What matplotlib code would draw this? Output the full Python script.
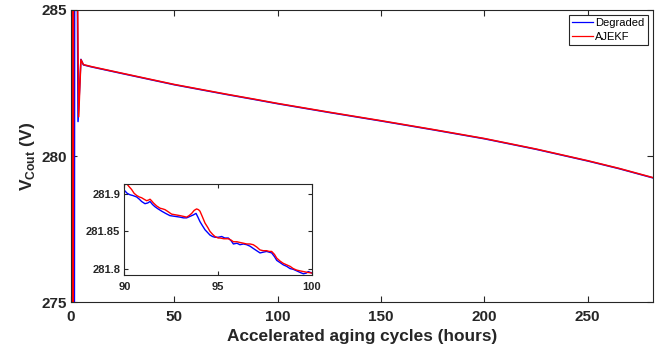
import matplotlib
matplotlib.use("Agg")
import matplotlib.pyplot as plt

plt.rcParams["font.family"] = ["Liberation Sans", "DejaVu Sans"]
plt.rcParams["mathtext.fontset"] = "custom"
plt.rcParams["mathtext.bf"] = "Liberation Sans:bold"
plt.rcParams["mathtext.rm"] = "Liberation Sans"

# Full run: output capacitor voltage vs. aging time
hours_degraded = [0.8, 1.1, 1.5, 1.9, 3.4, 4.8, 6.0, 10, 25, 50, 75, 90, 100,
                  125, 150, 175, 200, 225, 250, 265, 281.6]
v_degraded = [300, 260, 262, 300, 281.18, 283.31, 283.12, 283.05, 282.82, 282.44,
              282.11, 281.92, 281.79, 281.49, 281.20, 280.90, 280.59, 280.23,
              279.83, 279.57, 279.25]

hours_ajekf = [0.35, 0.6, 1.0, 1.3, 3.7, 4.8, 6.0, 10, 25, 50, 75, 90, 100,
               125, 150, 175, 200, 225, 250, 265, 281.6]
v_ajekf = [300, 260, 262, 300, 281.34, 283.30, 283.13, 283.06, 282.83, 282.45,
           282.12, 281.93, 281.80, 281.50, 281.21, 280.91, 280.60, 280.24,
           279.84, 279.58, 279.26]

# Zoomed window 90-100 h
zoom_hours_degraded = [90.00, 90.15, 90.30, 90.45, 90.66, 90.80, 90.92, 91.10, 91.25,
                       91.37, 91.50, 91.63, 91.80, 91.99, 92.20, 92.43, 92.70, 92.97,
                       93.15, 93.32, 93.50, 93.68, 93.82, 93.92, 94.03, 94.15, 94.30,
                       94.45, 94.56, 94.70, 94.83, 95.00, 95.19, 95.35, 95.54, 95.70,
                       95.81, 96.00, 96.16, 96.35, 96.52, 96.70, 96.87, 97.05, 97.23,
                       97.40, 97.58, 97.72, 97.85, 98.00, 98.12, 98.30, 98.47, 98.65,
                       98.83, 99.00, 99.18, 99.35, 99.54, 99.70, 99.80, 100.00]
zoom_v_degraded = [281.905, 281.901, 281.899, 281.898, 281.896, 281.893, 281.890,
                   281.887, 281.888, 281.890, 281.886, 281.883, 281.880, 281.877,
                   281.874, 281.871, 281.870, 281.869, 281.868, 281.868, 281.870,
                   281.872, 281.874, 281.869, 281.863, 281.858, 281.852, 281.848,
                   281.845, 281.843, 281.842, 281.842, 281.843, 281.841, 281.841,
                   281.837, 281.833, 281.834, 281.832, 281.833, 281.832, 281.830,
                   281.827, 281.824, 281.821, 281.822, 281.823, 281.822, 281.821,
                   281.816, 281.811, 281.808, 281.805, 281.803, 281.800, 281.799,
                   281.797, 281.795, 281.793, 281.794, 281.796, 281.794]

zoom_hours_ajekf = [90.00, 90.12, 90.25, 90.39, 90.52, 90.66, 90.80, 90.92, 91.05,
                    91.19, 91.30, 91.37, 91.45, 91.55, 91.72, 91.90, 92.05, 92.17,
                    92.35, 92.52, 92.75, 92.97, 93.15, 93.32, 93.45, 93.59, 93.72,
                    93.85, 93.95, 94.03, 94.15, 94.30, 94.45, 94.56, 94.70, 94.83,
                    95.00, 95.10, 95.30, 95.54, 95.70, 95.81, 96.00, 96.16, 96.35,
                    96.52, 96.70, 96.87, 97.05, 97.23, 97.40, 97.58, 97.72, 97.85,
                    98.00, 98.12, 98.30, 98.47, 98.65, 98.83, 99.00, 99.18, 99.35,
                    99.54, 99.75, 100.00]
zoom_v_ajekf = [281.912, 281.914, 281.910, 281.906, 281.901, 281.898, 281.896,
                281.895, 281.893, 281.891, 281.892, 281.893, 281.891, 281.888,
                281.884, 281.881, 281.880, 281.879, 281.876, 281.873, 281.872,
                281.871, 281.870, 281.869, 281.871, 281.874, 281.878, 281.880,
                281.879, 281.877, 281.870, 281.861, 281.855, 281.850, 281.846,
                281.843, 281.841, 281.841, 281.840, 281.840, 281.838, 281.836,
                281.836, 281.835, 281.834, 281.833, 281.833, 281.832, 281.829,
                281.825, 281.824, 281.824, 281.823, 281.823, 281.819, 281.814,
                281.810, 281.807, 281.805, 281.803, 281.800, 281.798, 281.797,
                281.796, 281.795, 281.794]

x_ticks = [0, 50, 100, 150, 200, 250]
y_ticks = [275, 280, 285]
zoom_x_ticks = [90, 95, 100]
zoom_y_ticks = [281.8, 281.85, 281.9]
zoom_y_labels = ["281.8", "281.85", "281.9"]

BLUE = "#0000ff"
RED = "#ff0000"
FRAME = "#262626"

fig = plt.figure(figsize=(6.68, 3.52), dpi=100)
ax = fig.add_axes([0.1063, 0.142, 0.8712, 0.8296])

ax.plot(hours_degraded, v_degraded, color=BLUE, lw=1.1, label="Degraded")
ax.plot(hours_ajekf, v_ajekf, color=RED, lw=1.1, label="AJEKF")

ax.set_xlim(0, 281.6)
ax.set_ylim(275, 285)
ax.set_xticks(x_ticks)
ax.set_yticks(y_ticks)
ax.tick_params(axis="both", direction="in", top=True, right=True, length=4,
               width=0.8, colors=FRAME, labelsize=11)
ax.tick_params(axis="x", pad=6)
ax.tick_params(axis="y", pad=3)
for lbl in ax.get_xticklabels() + ax.get_yticklabels():
    lbl.set_fontweight("bold")
for s in ax.spines.values():
    s.set_color(FRAME)
    s.set_linewidth(0.8)

ax.set_xlabel("Accelerated aging cycles (hours)", fontsize=12.4, fontweight="bold",
              color=FRAME, labelpad=3)
ax.set_ylabel(r"$\mathbf{V}_{\mathbf{Cout}}$ (V)", fontsize=12.5, fontweight="bold",
              color=FRAME, labelpad=3)

leg = ax.legend(loc="upper right", fontsize=8, handlelength=1.9, handletextpad=0.2,
                borderpad=0.3, labelspacing=0.3, fancybox=False, framealpha=1,
                borderaxespad=0.45)
leg.get_frame().set_edgecolor(FRAME)
leg.get_frame().set_linewidth(0.8)
for line in leg.get_lines():
    line.set_linewidth(0.9)

ins = fig.add_axes([0.1861, 0.2179, 0.281, 0.2585])
ins.plot(zoom_hours_degraded, zoom_v_degraded, color=BLUE, lw=1.0)
ins.plot(zoom_hours_ajekf, zoom_v_ajekf, color=RED, lw=1.0)
ins.set_xlim(90, 100)
ins.set_ylim(281.791, 281.913)
ins.set_xticks(zoom_x_ticks)
ins.set_yticks(zoom_y_ticks)
ins.set_yticklabels(zoom_y_labels)
ins.tick_params(axis="both", direction="in", top=True, right=True, length=3,
                width=0.8, colors=FRAME, labelsize=8)
ins.tick_params(axis="x", pad=5)
ins.tick_params(axis="y", pad=3)
for lbl in ins.get_xticklabels() + ins.get_yticklabels():
    lbl.set_fontweight("bold")
for s in ins.spines.values():
    s.set_color(FRAME)
    s.set_linewidth(0.8)

fig.savefig("out.png", dpi=100)
